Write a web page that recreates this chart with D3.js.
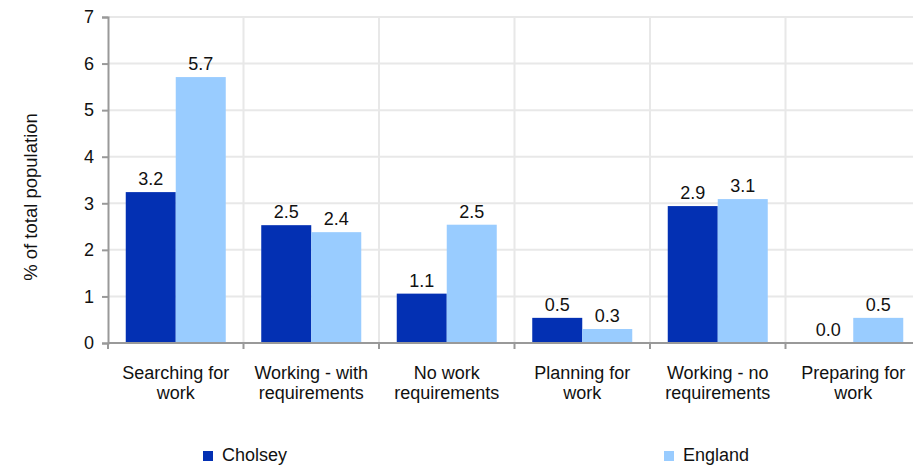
<!DOCTYPE html>
<html>
<head>
<meta charset="utf-8">
<script src="https://cdn.jsdelivr.net/npm/d3@7"></script>
<style>
  html, body { margin: 0; padding: 0; background: #fff; }
  svg { display: block; font-family: "Liberation Sans", Arial, sans-serif; }
</style>
</head>
<body>
<svg id="chart" width="913" height="465"></svg>
<script>
const categories = [
  ["Searching for", "work"],
  ["Working - with", "requirements"],
  ["No work", "requirements"],
  ["Planning for", "work"],
  ["Working - no", "requirements"],
  ["Preparing for", "work"]
];
const seriesNames = ["Cholsey", "England"];
const cholsey = [3.24, 2.53, 1.06, 0.54, 2.94, 0.0];
const england = [5.71, 2.38, 2.54, 0.30, 3.09, 0.54];
const yTicks = [0, 1, 2, 3, 4, 5, 6, 7];
const colors = ["#0330b3", "#99ccff"];

(function () {
const svg = d3.select("#chart");
const mLeft = 108, mRight = 921, mTop = 17, mBottom = 343;
const FS = 18;

const x = d3.scaleBand().domain(d3.range(categories.length)).range([mLeft, mRight]);
const xi = d3.scaleBand().domain([0, 1]).range([0, x.bandwidth()]).paddingInner(0).paddingOuter(0.355);
const y = d3.scaleLinear().domain([0, 7]).range([mBottom, mTop]);

// horizontal gridlines
svg.append("g").selectAll("line").data(yTicks.filter(d => d > 0)).join("line")
  .attr("x1", mLeft).attr("x2", mRight)
  .attr("y1", d => y(d)).attr("y2", d => y(d))
  .attr("stroke", "#e8e8e8").attr("stroke-width", 2);

// vertical gridlines
svg.append("g").selectAll("line").data(d3.range(1, categories.length + 1)).join("line")
  .attr("x1", d => mLeft + d * x.step()).attr("x2", d => mLeft + d * x.step())
  .attr("y1", mTop).attr("y2", mBottom)
  .attr("stroke", "#e8e8e8").attr("stroke-width", 2);

const series = [cholsey, england];
series.forEach((vals, s) => {
  svg.append("g").selectAll("rect").data(vals).join("rect")
    .attr("x", (d, i) => x(i) + xi(s))
    .attr("width", xi.bandwidth())
    .attr("y", d => y(d))
    .attr("height", d => y(0) - y(d))
    .attr("fill", colors[s]);
  svg.append("g").selectAll("text").data(vals).join("text")
    .attr("x", (d, i) => x(i) + xi(s) + xi.bandwidth() / 2)
    .attr("y", d => y(d) - 7)
    .attr("text-anchor", "middle")
    .attr("font-size", FS)
    .attr("fill", "#111")
    .text(d => d.toFixed(1));
});

// y axis
const yAxis = svg.append("g").attr("transform", `translate(${mLeft},0)`)
  .call(d3.axisLeft(y).tickValues(yTicks).tickSize(6).tickPadding(8).tickFormat(d3.format("d")));
yAxis.select(".domain").attr("stroke", "#999").attr("stroke-width", 2);
yAxis.selectAll(".tick line").attr("stroke", "#999").attr("stroke-width", 2);
yAxis.selectAll(".tick text").attr("font-size", FS).attr("fill", "#111")
  .attr("font-family", "Liberation Sans, Arial, sans-serif");

// x axis
const xAxisG = svg.append("g").attr("transform", `translate(0,${mBottom})`);
xAxisG.append("line").attr("x1", mLeft).attr("x2", mRight).attr("stroke", "#999").attr("stroke-width", 2);
xAxisG.selectAll("line.tk").data(d3.range(0, categories.length + 1)).join("line")
  .attr("class", "tk")
  .attr("x1", d => mLeft + d * x.step()).attr("x2", d => mLeft + d * x.step())
  .attr("y1", 0).attr("y2", 6).attr("stroke", "#999").attr("stroke-width", 2);

const labels = svg.append("g").selectAll("text").data(categories).join("text")
  .attr("text-anchor", "middle")
  .attr("font-size", FS)
  .attr("fill", "#111")
  .attr("x", (d, i) => x(i) + x.bandwidth() / 2)
  .attr("y", 379);
labels.each(function(d) {
  const t = d3.select(this);
  d.forEach((line, k) => {
    t.append("tspan").attr("x", t.attr("x")).attr("dy", k === 0 ? 0 : 20).text(line);
  });
});

// y axis title
svg.append("text")
  .attr("transform", "translate(37,197) rotate(-90)")
  .attr("text-anchor", "middle")
  .attr("font-size", 18.5)
  .attr("fill", "#111")
  .text("% of total population");

// legend
const legendX = [203, 664];
seriesNames.forEach((n, s) => {
  svg.append("rect").attr("x", legendX[s]).attr("y", 451).attr("width", 10).attr("height", 10).attr("fill", colors[s]);
  svg.append("text").attr("x", legendX[s] + 19).attr("y", 461)
    .attr("font-size", FS).attr("fill", "#111").text(n);
});
})();
</script>
</body>
</html>
